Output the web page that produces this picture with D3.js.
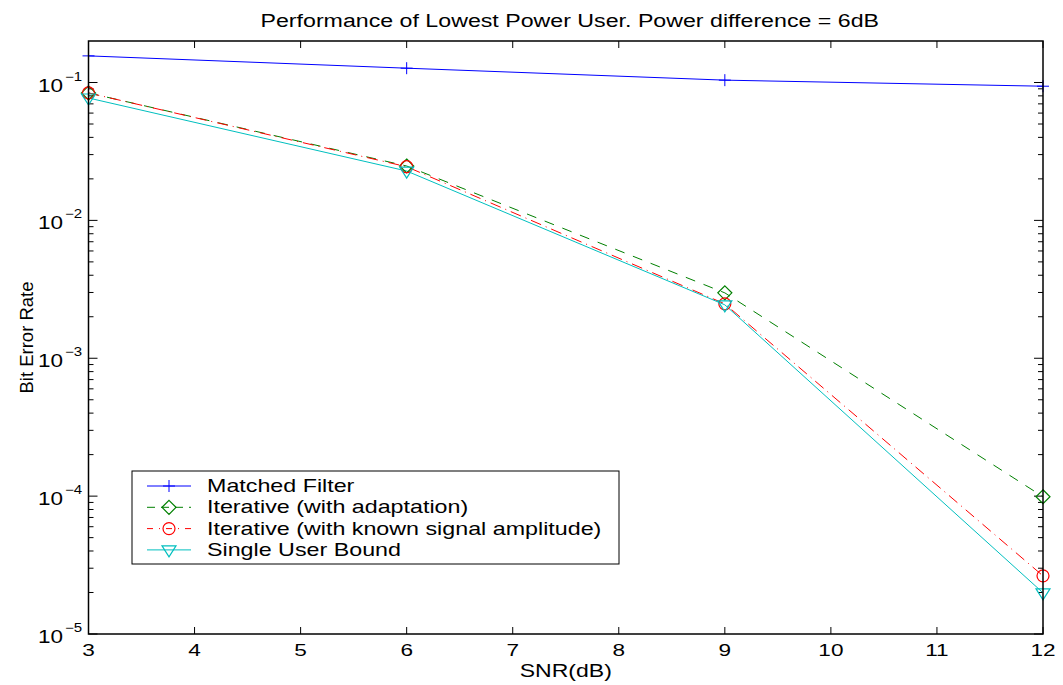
<!DOCTYPE html>
<html>

<head>
  <title>Performance of Lowest Power User</title>
  <meta charset="UTF-8" />
  <script src="https://cdn.jsdelivr.net/npm/d3@7"></script>
</head>

<style>
  body {
    margin: 0;
    background: white;
    font-family: 'Liberation Sans', Arial, Helvetica, sans-serif;
  }
</style>

<body>
  <svg></svg>
  <script>
    // data
    const snr = [3, 6, 9, 12];
    const matchedFilter = [0.156, 0.127, 0.104, 0.094];
    const iterAdapt = [0.084, 0.0248, 0.00298, 0.000099];
    const iterKnown = [0.084, 0.0245, 0.00248, 0.0000264];
    const singleUser = [0.0772, 0.0228, 0.00244, 0.0000199];
    const xTicks = [3, 4, 5, 6, 7, 8, 9, 10, 11, 12];
    const yTicks = [1e-5, 1e-4, 1e-3, 1e-2, 1e-1];
    const yExp = ['\u22125', '\u22124', '\u22123', '\u22122', '\u22121'];

    const series = [
      { name: 'Matched Filter', values: matchedFilter, color: '#0000ff', dash: null, marker: 'plus' },
      { name: 'Iterative (with adaptation)', values: iterAdapt, color: '#008000', dash: '10,9', marker: 'diamond' },
      { name: 'Iterative (with known signal amplitude)', values: iterKnown, color: '#ff0000', dash: '11,5,1,5', marker: 'circle' },
      { name: 'Single User Bound', values: singleUser, color: '#00bfbf', dash: null, marker: 'triangle' },
    ];

    let width = 1063,
      height = 685;
    let pLeft = 88.5, pRight = 1043, pTop = 41, pBottom = 634;

    let svg = d3.select('svg').attr('width', width).attr('height', height);

    let x = d3.scaleLinear().domain([3, 12]).range([pLeft, pRight]);
    let y = d3.scaleLog().domain([1e-5, 0.2]).range([pBottom, pTop]);

    // text in the picture is stretched sideways, so scale it
    function addText(g, tx, ty, str, size, sx, anchor) {
      return g.append('text')
        .attr('transform', `translate(${tx},${ty}) scale(${sx},1)`)
        .attr('font-size', size)
        .attr('text-anchor', anchor || 'start')
        .text(str);
    }

    // minor ticks on log axis
    let minor = [];
    for (let e = -5; e <= -1; e++) {
      for (let m = 2; m <= 9; m++) {
        let v = m * Math.pow(10, e);
        if (v < 0.2) minor.push(v);
      }
    }

    let axes = svg.append('g').attr('stroke', '#000');
    // y ticks, left and right sides
    [pLeft, pRight].forEach((x0, i) => {
      let dir = i == 0 ? 1 : -1;
      axes.selectAll(null).data(yTicks).enter().append('line')
        .attr('x1', x0).attr('x2', x0 + dir * 9)
        .attr('y1', d => y(d)).attr('y2', d => y(d))
        .attr('stroke-width', 1);
      axes.selectAll(null).data(minor).enter().append('line')
        .attr('x1', x0).attr('x2', x0 + dir * 5)
        .attr('y1', d => y(d)).attr('y2', d => y(d))
        .attr('stroke-width', 1);
    });
    // x ticks top and bottom
    [pBottom, pTop].forEach((y0, i) => {
      let dir = i == 0 ? -1 : 1;
      axes.selectAll(null).data(xTicks).enter().append('line')
        .attr('x1', d => x(d)).attr('x2', d => x(d))
        .attr('y1', y0).attr('y2', y0 + dir * 7)
        .attr('stroke-width', 1);
    });

    // series lines
    let line = d3.line().x((d, i) => x(snr[i])).y(d => y(d));
    series.forEach(s => {
      svg.append('path')
        .attr('d', line(s.values))
        .attr('fill', 'none')
        .attr('stroke', s.color)
        .attr('stroke-width', 1)
        .attr('stroke-dasharray', s.dash);
    });

    function drawMarker(g, type, cx, cy, color) {
      if (type == 'plus') {
        g.append('path').attr('d', `M${cx - 6},${cy}H${cx + 6}M${cx},${cy - 6}V${cy + 6}`)
          .attr('stroke', color).attr('fill', 'none');
      } else if (type == 'diamond') {
        g.append('path').attr('d', `M${cx},${cy - 7}L${cx + 7},${cy}L${cx},${cy + 7}L${cx - 7},${cy}Z`)
          .attr('stroke', color).attr('fill', 'none').attr('stroke-width', 1.2);
      } else if (type == 'circle') {
        g.append('circle').attr('cx', cx).attr('cy', cy).attr('r', 6)
          .attr('stroke', color).attr('fill', 'none').attr('stroke-width', 1.2);
      } else {
        g.append('path').attr('d', `M${cx - 7},${cy - 4}L${cx + 7},${cy - 4}L${cx},${cy + 7}Z`)
          .attr('stroke', color).attr('fill', 'none').attr('stroke-width', 1.2);
      }
    }

    series.forEach(s => {
      let g = svg.append('g');
      s.values.forEach((v, i) => drawMarker(g, s.marker, x(snr[i]), y(v), s.color));
    });

    // frame
    svg.append('rect')
      .attr('x', pLeft).attr('y', pTop)
      .attr('width', pRight - pLeft).attr('height', pBottom - pTop)
      .attr('fill', 'none').attr('stroke', '#000').attr('stroke-width', 1.5);

    // x tick labels
    let xl = svg.append('g');
    xTicks.forEach(d => addText(xl, x(d), pBottom + 22, d, 17, 1.33, 'middle'));

    // y tick labels
    let ylab = svg.append('g');
    yTicks.forEach((d, i) => {
      addText(ylab, 63, y(d) + 9, '10', 18, 1.25, 'end');
      addText(ylab, 65, y(d) - 2, yExp[i], 12, 1.25, 'start');
    });

    // title and axis labels
    addText(svg, (pLeft + pRight) / 2 + 4, 27,
      'Performance of Lowest Power User. Power difference = 6dB', 19, 1.22, 'middle');
    addText(svg, (pLeft + pRight) / 2, 677, 'SNR(dB)', 18, 1.28, 'middle');
    svg.append('text')
      .attr('transform', `translate(33,${(pTop + pBottom) / 2}) rotate(-90)`)
      .attr('text-anchor', 'middle').attr('font-size', 18.5)
      .text('Bit Error Rate');

    // legend
    let lg = svg.append('g');
    lg.append('rect')
      .attr('x', 132).attr('y', 471).attr('width', 487).attr('height', 93)
      .attr('fill', 'white').attr('stroke', '#000').attr('stroke-width', 1);
    series.forEach((s, i) => {
      let ly = 486 + i * 21.3;
      lg.append('line')
        .attr('x1', 147).attr('x2', 191).attr('y1', ly).attr('y2', ly)
        .attr('stroke', s.color).attr('stroke-width', 1)
        .attr('stroke-dasharray', s.dash ? (s.dash == '10,9' ? '8,6' : '6,6,1,6') : null);
      drawMarker(lg, s.marker, 169, ly, s.color);
      addText(lg, 207, ly + 6, s.name, 17.5, 1.33, 'start');
    });
  </script>
</body>

</html>
